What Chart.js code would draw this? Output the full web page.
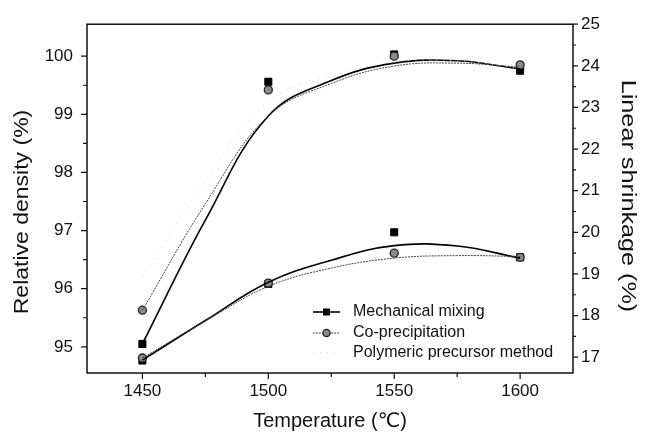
<!DOCTYPE html>
<html>
<head>
<meta charset="utf-8">
<script src="https://cdn.jsdelivr.net/npm/chart.js@4"></script>
<style>
  html, body { margin: 0; padding: 0; background: #fff; }
  #wrap { width: 646px; height: 440px; }
</style>
</head>
<body>
<div id="wrap"><canvas id="c" width="646" height="440"></canvas></div>
<script>
// ---- data ----
const temps = [1450, 1500, 1550, 1600];
const fitTemps = [1450, 1475, 1500, 1525, 1550, 1575, 1600];

// Relative density (%) markers, left axis
const mechDensity = [95.05, 99.56, 100.03, 99.75];
const coDensity = [95.63, 99.42, 100.0, 99.85];
// Linear shrinkage (%) markers, right axis
const mechShrink = [16.92, 18.76, 20.0, 19.4];
const coShrink = [16.98, 18.78, 19.5, 19.4];

// fitted curves read at fitTemps
const mechDensityFit = [95.05, 97.18, 98.97, 99.58, 99.88, 99.92, 99.78];
const coDensityFit = [95.63, 97.46, 98.97, 99.53, 99.83, 99.88, 99.81];
const polyDensityFit = [96.2, 97.85, 99.22, 99.65, 99.9, 99.92, 99.8];
const mechShrinkFit = [16.93, 17.88, 18.8, 19.33, 19.68, 19.67, 19.38];
const coShrinkFit = [16.98, 17.87, 18.7, 19.14, 19.38, 19.44, 19.42];

// tick labels / positions
const xMajor = [1450, 1500, 1550, 1600];
const xMinor = [1475, 1525, 1575];
const yLeftMajor = [95, 96, 97, 98, 99, 100];
const yLeftMinor = [95.5, 96.5, 97.5, 98.5, 99.5];
const yRightMajor = [17, 18, 19, 20, 21, 22, 23, 24, 25];
const yRightMinor = [17.5, 18.5, 19.5, 20.5, 21.5, 22.5, 23.5, 24.5];

const legendLabels = ['Mechanical mixing', 'Co-precipitation', 'Polymeric precursor method'];
const xTitle = 'Temperature (\u2103)';
const yLeftTitle = 'Relative density (%)';
const yRightTitle = 'Linear shrinkage (%)';

const FONT = "'Liberation Sans', Arial, 'DejaVu Sans', sans-serif";

const pts = (xs, ys) => xs.map((x, i) => ({x: x, y: ys[i]}));

const MECH = {color: '#000', width: 1.6, dash: []};
const CO = {color: '#444', width: 1, dash: [2, 1]};
const POLY = {color: '#cfcfcf', width: 1, dash: [1, 6]};

function lineDs(data, axis, st) {
  return {type: 'line', data: data, yAxisID: axis, borderColor: st.color, borderWidth: st.width,
    borderDash: st.dash, pointRadius: 0, tension: 0.4, fill: false};
}
function markDs(data, axis, kind) {
  if (kind === 'mech') {
    return {type: 'scatter', data: data, yAxisID: axis, pointStyle: 'rect', pointRadius: 5,
      backgroundColor: '#000', borderColor: '#000', borderWidth: 1, showLine: false};
  }
  return {type: 'scatter', data: data, yAxisID: axis, pointStyle: 'circle', pointRadius: 4,
    backgroundColor: '#8a8a8a', borderColor: '#222', borderWidth: 1.3, showLine: false};
}

const datasets = [
  lineDs(pts(fitTemps, polyDensityFit), 'y', POLY),
  lineDs(pts(fitTemps, coDensityFit), 'y', CO),
  lineDs(pts(fitTemps, mechDensityFit), 'y', MECH),
  lineDs(pts(fitTemps, coShrinkFit), 'y1', CO),
  lineDs(pts(fitTemps, mechShrinkFit), 'y1', MECH),
  markDs(pts(temps, coDensity), 'y', 'co'),
  markDs(pts(temps, mechDensity), 'y', 'mech'),
  markDs(pts(temps, coShrink), 'y1', 'co'),
  markDs(pts(temps, mechShrink), 'y1', 'mech'),
];

const frameTicks = {
  id: 'frameTicks',
  afterDatasetsDraw(chart) {
    const {ctx, chartArea: a, scales} = chart;
    ctx.save();
    ctx.strokeStyle = '#111';
    ctx.lineWidth = 1.5;
    ctx.strokeRect(a.left, a.top, a.right - a.left, a.bottom - a.top);
    ctx.lineWidth = 1.2;
    ctx.beginPath();
    const tick = (list, len, fn) => list.forEach(v => fn(v, len));
    const xt = (v, len) => { const p = scales.x.getPixelForValue(v); ctx.moveTo(p, a.bottom); ctx.lineTo(p, a.bottom + len); };
    const yl = (v, len) => { const p = scales.y.getPixelForValue(v); ctx.moveTo(a.left, p); ctx.lineTo(a.left - len, p); };
    const yr = (v, len) => { const p = scales.y1.getPixelForValue(v); ctx.moveTo(a.right, p); ctx.lineTo(a.right + len, p); };
    tick(xMajor, 6, xt); tick(xMinor, 4, xt);
    tick(yLeftMajor, 6, yl); tick(yLeftMinor, 4, yl);
    tick(yRightMajor, 5, yr); tick(yRightMinor, 3, yr);
    ctx.stroke();
    ctx.restore();
  }
};

const axisTitles = {
  id: 'axisTitles',
  afterDraw(chart) {
    const ctx = chart.ctx;
    ctx.save();
    ctx.fillStyle = '#111';
    ctx.textAlign = 'center';
    ctx.textBaseline = 'middle';
    ctx.save();
    ctx.translate(22, 212);
    ctx.rotate(-Math.PI / 2);
    ctx.scale(1.15, 1);
    ctx.font = '20px ' + FONT;
    ctx.fillText(yLeftTitle, 0, 0);
    ctx.restore();
    ctx.save();
    ctx.translate(628, 196);
    ctx.rotate(Math.PI / 2);
    ctx.scale(1.2, 1);
    ctx.font = '21px ' + FONT;
    ctx.fillText(yRightTitle, 0, 0);
    ctx.restore();
    ctx.restore();
  }
};

const customLegend = {
  id: 'customLegend',
  afterDraw(chart) {
    const ctx = chart.ctx;
    const styles = [MECH, CO, POLY];
    const x0 = 313, x1 = 340, tx = 353, ys = [312, 333, 353];
    ctx.save();
    ys.forEach((y, i) => {
      const st = styles[i];
      ctx.strokeStyle = st.color;
      ctx.lineWidth = st.width;
      ctx.setLineDash(st.dash);
      ctx.beginPath(); ctx.moveTo(x0, y); ctx.lineTo(x1, y); ctx.stroke();
      ctx.setLineDash([]);
      const cx = (x0 + x1) / 2;
      if (i === 0) {
        ctx.fillStyle = '#000';
        ctx.fillRect(cx - 3.5, y - 3.5, 7, 7);
      } else if (i === 1) {
        ctx.fillStyle = '#8a8a8a'; ctx.strokeStyle = '#222'; ctx.lineWidth = 1.3;
        ctx.beginPath(); ctx.arc(cx, y, 3.6, 0, Math.PI * 2); ctx.fill(); ctx.stroke();
      }
      ctx.fillStyle = '#111';
      ctx.font = '16px ' + FONT;
      ctx.textBaseline = 'middle';
      ctx.textAlign = 'left';
      ctx.fillText(legendLabels[i], tx, y);
    });
    ctx.restore();
  }
};

new Chart(document.getElementById('c'), {
  data: {datasets: datasets},
  options: {
    responsive: false,
    animation: false,
    devicePixelRatio: 1,
    layout: {padding: {top: 20, left: 0, right: 0, bottom: 0}},
    plugins: {legend: {display: false}, tooltip: {enabled: false}},
    scales: {
      x: {
        type: 'linear', min: 1428, max: 1621,
        grid: {display: false, drawTicks: false}, border: {display: false},
        afterBuildTicks: s => { s.ticks = xMajor.map(v => ({value: v})); },
        afterFit: s => { s.height = 67; },
        ticks: {color: '#111', padding: 8, maxRotation: 0, font: {size: 17, family: FONT},
          callback: v => String(v)},
        title: {display: true, text: xTitle, color: '#111',
          font: {size: 20, family: FONT}, padding: {top: 0, bottom: 7}}
      },
      y: {
        type: 'linear', position: 'left', min: 94.55, max: 100.55,
        grid: {display: false, drawTicks: false}, border: {display: false},
        afterBuildTicks: s => { s.ticks = yLeftMajor.map(v => ({value: v})); },
        afterFit: s => { s.width = 87; },
        ticks: {color: '#111', padding: 14, font: {size: 17, family: FONT}, callback: v => String(v)},
        title: {display: false}
      },
      y1: {
        type: 'linear', position: 'right', min: 16.62, max: 25,
        grid: {display: false, drawTicks: false}, border: {display: false},
        afterBuildTicks: s => { s.ticks = yRightMajor.map(v => ({value: v})); },
        afterFit: s => { s.width = 73; },
        ticks: {color: '#111', padding: 8, font: {size: 17, family: FONT}, callback: v => String(v)},
        title: {display: false}
      }
    }
  },
  plugins: [frameTicks, axisTitles, customLegend]
});
</script>
</body>
</html>
